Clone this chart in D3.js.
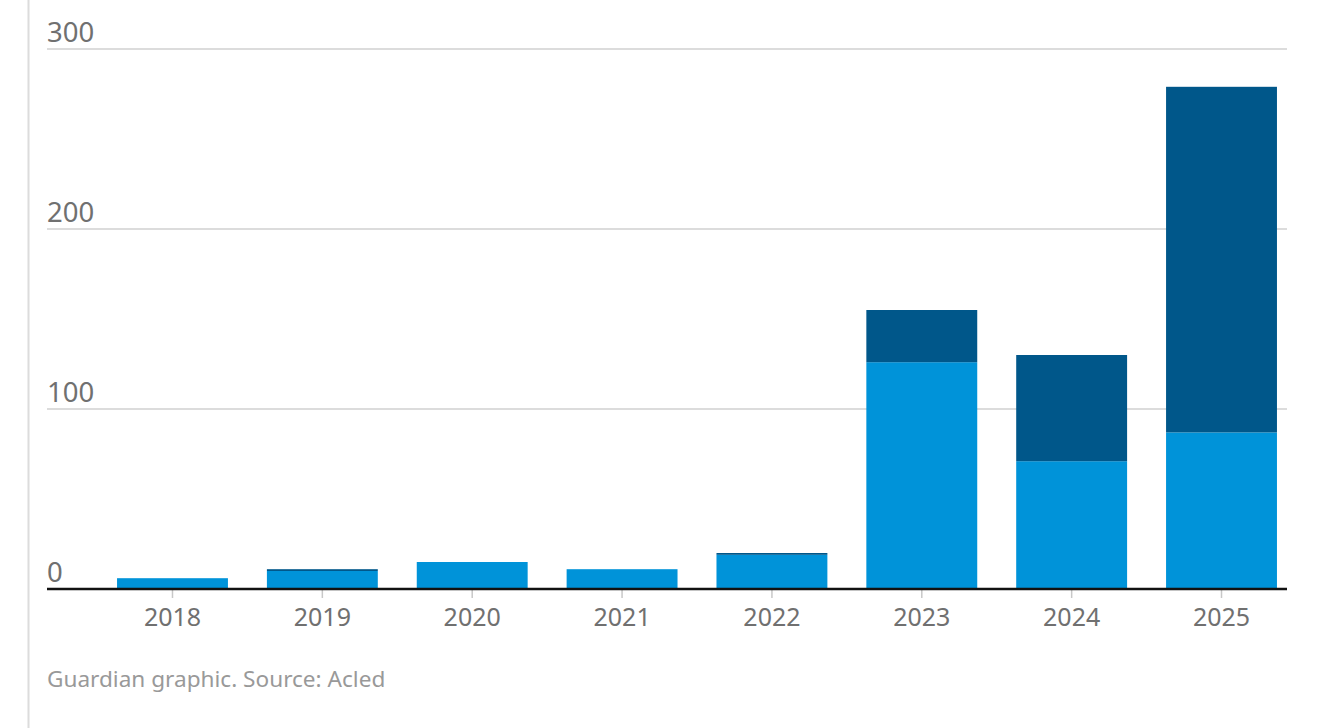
<!DOCTYPE html>
<html>
<head>
<meta charset="utf-8">
<script src="https://cdn.jsdelivr.net/npm/d3@7/dist/d3.min.js"></script>
<style>
  html, body { margin: 0; padding: 0; background: #fff; }
  svg { display: block; }
  text { font-family: "Noto Sans", "Open Sans", sans-serif; }
</style>
</head>
<body>
<svg id="chart" width="1326" height="728"></svg>
<script>
const years = ["2018", "2019", "2020", "2021", "2022", "2023", "2024", "2025"];
const seriesLight = [6, 10, 15, 11, 19, 126, 71, 87];
const seriesDark = [0, 1, 0, 0, 1, 29, 59, 192];
const yTicks = [0, 100, 200, 300];
const sourceText = "Guardian graphic. Source: Acled";

const colors = { light: "#0093d9", dark: "#00578a" };

const svg = d3.select("#chart");
const W = 1326, H = 728;

const x = d3.scaleBand().domain(years).range([107, 1287]).paddingInner(0.26).paddingOuter(0.067);
const y = d3.scaleLinear().domain([0, 300]).range([589, 49]);

// left border line
svg.append("line").attr("x1", 28.5).attr("x2", 28.5).attr("y1", 0).attr("y2", H)
  .attr("stroke", "#dcdcdc").attr("stroke-width", 2);

// gridlines + y labels
const yg = svg.append("g");
yg.selectAll("line.grid").data(yTicks.filter(d => d > 0)).join("line")
  .attr("class", "grid")
  .attr("x1", 47).attr("x2", 1287)
  .attr("y1", d => y(d)).attr("y2", d => y(d))
  .attr("stroke", "#dcdcdc").attr("stroke-width", 2);
yg.selectAll("text").data(yTicks).join("text")
  .attr("x", 47).attr("y", d => y(d) - 7)
  .attr("fill", "#707070").attr("font-size", 27.5)
  .text(d => d);

// stacked bars
const data = years.map((yr, i) => ({ year: yr, light: seriesLight[i], dark: seriesDark[i] }));
const stack = d3.stack().keys(["light", "dark"])(data);
svg.append("g").selectAll("g").data(stack).join("g")
  .attr("fill", s => colors[s.key])
  .selectAll("rect").data(s => s).join("rect")
  .attr("x", d => x(d.data.year))
  .attr("width", x.bandwidth())
  .attr("y", d => y(d[1]))
  .attr("height", d => Math.max(0, y(d[0]) - y(d[1])));

// x axis
const xAxis = d3.axisBottom(x).tickSize(9).tickPadding(8);
const xg = svg.append("g").attr("transform", `translate(0,${y(0)})`).call(xAxis);
xg.select(".domain").remove();
xg.selectAll(".tick line").attr("stroke", "#c8c8c8").attr("stroke-width", 1.5);
xg.selectAll(".tick text").attr("fill", "#707070").attr("font-size", 25)
  .attr("font-family", "'Noto Sans', 'Open Sans', sans-serif").attr("dy", "0.8em");
svg.append("line").attr("x1", 47).attr("x2", 1287).attr("y1", y(0)).attr("y2", y(0))
  .attr("stroke", "#121212").attr("stroke-width", 2.5);

// source
svg.append("text").attr("x", 47).attr("y", 687)
  .attr("fill", "#999999").attr("font-size", 22.6)
  .text(sourceText);
</script>
</body>
</html>
